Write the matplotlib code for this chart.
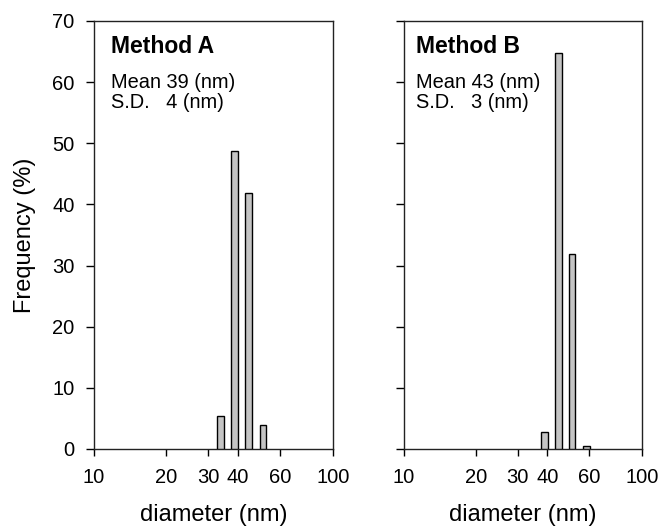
import numpy as np
import matplotlib
matplotlib.use("Agg")
import matplotlib.pyplot as plt

plt.rcParams['font.family'] = ['Liberation Sans', 'DejaVu Sans']

# bin centres (nm)
centres_a = [33.9, 38.8, 44.4, 50.9]
freq_a = [5.4, 48.7, 41.8, 4.0]
centres_b = [38.9, 44.5, 50.9, 58.4]
freq_b = [2.8, 64.8, 31.9, 0.5]

titles = ["Method A", "Method B"]
means = [39, 43]
sds = [4, 3]
xticks = [10, 20, 30, 40, 60, 100]
yticks = [0, 10, 20, 30, 40, 50, 60, 70]

W, H = 659, 527
fig = plt.figure(figsize=(W / 100, H / 100), dpi=100)
ax1 = fig.add_axes([94 / W, (H - 449) / H, 239 / W, 428 / H])
ax2 = fig.add_axes([404 / W, (H - 449) / H, 238 / W, 428 / H])

half = 0.0137  # half bar width in decades
for ax, c, f, title, m, s, tx in [(ax1, centres_a, freq_a, titles[0], means[0], sds[0], 0.071),
                                  (ax2, centres_b, freq_b, titles[1], means[1], sds[1], 0.050)]:
    c = np.array(c)
    left = c * 10 ** (-half)
    width = c * (10 ** half - 10 ** (-half))
    ax.bar(left, f, width=width, align='edge', color='#c4c4c4',
           edgecolor='black', linewidth=1.0, zorder=3)
    ax.set_xscale('log')
    ax.set_xlim(10, 100)
    ax.set_ylim(0, 70)
    ax.set_xticks(xticks)
    ax.set_xticklabels([str(t) for t in xticks])
    ax.xaxis.set_minor_locator(matplotlib.ticker.NullLocator())
    ax.set_yticks(yticks)
    ax.tick_params(axis='x', direction='out', length=5, width=1, labelsize=14.5, pad=9)
    ax.tick_params(axis='y', direction='out', length=6, width=1, labelsize=14.5, pad=8)
    for sp in ax.spines.values():
        sp.set_linewidth(1.0)
        sp.set_color('#222222')
    ax.set_xlabel("diameter (nm)", fontsize=17, labelpad=12)
    ax.text(tx, 0.925, title, transform=ax.transAxes, fontsize=16.5,
            fontweight='bold', ha='left', va='baseline')
    ax.text(tx, 0.843, "Mean %d (nm)" % m, transform=ax.transAxes,
            fontsize=14.4, ha='left', va='baseline')
    ax.text(tx, 0.797, "S.D.   %d (nm)" % s, transform=ax.transAxes,
            fontsize=14.4, ha='left', va='baseline')

ax1.set_ylabel("Frequency (%)", fontsize=17, labelpad=12)
ax2.set_yticklabels([])

fig.savefig("out.png", dpi=100)
